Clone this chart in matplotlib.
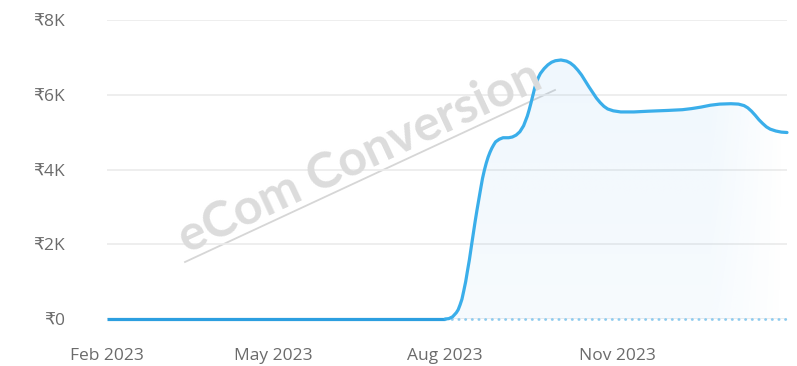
import numpy as np
import pandas as pd
import matplotlib
matplotlib.use("Agg")
import matplotlib.pyplot as plt
import matplotlib.dates as mdates
from matplotlib.patches import PathPatch

# revenue per day (INR)
dates = ["2023-02-01", "2023-08-01", "2023-08-03", "2023-08-05", "2023-08-07",
         "2023-08-08", "2023-08-09", "2023-08-10", "2023-08-11", "2023-08-12",
         "2023-08-13", "2023-08-14", "2023-08-15", "2023-08-16", "2023-08-17",
         "2023-08-18", "2023-08-19", "2023-08-20", "2023-08-21", "2023-08-22",
         "2023-08-23", "2023-08-24", "2023-08-25", "2023-08-26", "2023-08-27",
         "2023-08-28", "2023-08-30", "2023-09-01", "2023-09-04", "2023-09-06",
         "2023-09-08", "2023-09-10", "2023-09-12", "2023-09-13", "2023-09-14",
         "2023-09-15", "2023-09-16", "2023-09-17", "2023-09-18", "2023-09-19",
         "2023-09-20", "2023-09-21", "2023-09-23", "2023-09-25", "2023-09-27",
         "2023-09-29", "2023-10-02", "2023-10-05", "2023-10-07", "2023-10-09",
         "2023-10-11", "2023-10-13", "2023-10-15", "2023-10-17", "2023-10-19",
         "2023-10-21", "2023-10-23", "2023-10-25", "2023-10-27", "2023-10-30",
         "2023-11-03", "2023-11-10", "2023-11-18", "2023-11-28", "2023-12-06",
         "2023-12-11", "2023-12-16", "2023-12-21", "2023-12-26", "2024-01-01",
         "2024-01-05", "2024-01-08", "2024-01-10", "2024-01-12", "2024-01-14",
         "2024-01-16", "2024-01-18", "2024-01-20", "2024-01-22", "2024-01-25",
         "2024-01-28", "2024-01-31"]
revenue = [0, 0, 10, 60, 170,
           250, 380, 530, 760, 1000,
           1300, 1590, 1930, 2260, 2590,
           2900, 3190, 3480, 3760, 3980,
           4170, 4330, 4460, 4570, 4660,
           4740, 4810, 4850, 4850, 4870,
           4920, 5010, 5170, 5300, 5430,
           5600, 5790, 5990, 6190, 6350,
           6470, 6570, 6700, 6800, 6870,
           6910, 6930, 6900, 6850, 6770,
           6660, 6530, 6370, 6210, 6060,
           5910, 5790, 5690, 5620, 5570,
           5540, 5540, 5560, 5580, 5600,
           5630, 5670, 5720, 5750, 5760,
           5750, 5710, 5650, 5560, 5450,
           5330, 5230, 5140, 5080, 5030,
           5000, 4990]
yticks = [0, 2000, 4000, 6000, 8000]
ytick_labels = ["₹0", "₹2K", "₹4K", "₹6K", "₹8K"]
xticks = ["2023-02-01", "2023-05-01", "2023-08-01", "2023-11-01"]
xtick_labels = ["Feb 2023", "May 2023", "Aug 2023", "Nov 2023"]

x = pd.to_datetime(dates)
y = np.array(revenue, dtype=float)
first_sale = 1  # last day before the series moves off zero

plt.rcParams["font.family"] = ["Open Sans", "DejaVu Sans"]

fig = plt.figure(figsize=(7.97, 3.66), dpi=100)
ax = fig.add_axes([107 / 797, 1 - 319 / 366, 680 / 797, 299 / 366])

line_blue = "#3aaeea"

# area under the curve with a soft gradient
poly = ax.fill_between(x, y, 0, color="none", lw=0)
verts = poly.get_paths()[0]
xn = mdates.date2num(x)
grad = np.zeros((100, 200, 4))
grad[..., :3] = np.array([66, 160, 232]) / 255
hfade = np.clip((xn[-1] - np.linspace(xn[0], xn[-1], 200)) / 40, 0, 1)
vfade = np.linspace(0.55, 1.0, 100)[:, None]
grad[..., 3] = 0.085 * vfade * hfade[None, :]
img = ax.imshow(grad, extent=[xn[0], xn[-1], 0, 8000], origin="lower",
                aspect="auto", zorder=1, interpolation="bilinear")
clip = PathPatch(verts, transform=ax.transData, facecolor="none", edgecolor="none")
ax.add_patch(clip)
img.set_clip_path(clip)

# zero baseline: solid before sales begin, dotted afterwards
ax.plot(x[:first_sale + 1], y[:first_sale + 1], color="#2c9fe0", lw=2.3,
        solid_capstyle="butt", zorder=4, clip_on=False)
ax.plot(x[first_sale:], np.zeros(len(x) - first_sale), color="#8dcbef",
        lw=2.0, ls=(0, (0.1, 2.3)), dash_capstyle="round", zorder=3, clip_on=False)
ax.plot(x[first_sale:], y[first_sale:], color=line_blue, lw=2.3,
        solid_joinstyle="round", solid_capstyle="round", zorder=4, clip_on=False)

ax.set_ylim(0, 8000)
ax.set_xlim(xn[0], xn[-1])
ax.set_yticks(yticks)
ax.set_yticklabels(ytick_labels)
ax.set_xticks(pd.to_datetime(xticks))
ax.set_xticklabels(xtick_labels)
ax.tick_params(length=0, labelsize=12.5, labelcolor="#6b6b6b")
ax.tick_params(axis="y", pad=30)
ax.tick_params(axis="x", pad=21)
ax.grid(axis="y", color="#ebebeb", lw=1.2)
ax.set_axisbelow(True)
for s in ax.spines.values():
    s.set_visible(False)
ax.patch.set_alpha(0)

# watermark
fig.text(360 / 797, 1 - 157 / 366, "eCom Conversion", rotation=25,
         rotation_mode="anchor", ha="center", va="center", fontsize=36,
         fontweight="bold", color="#dcdcdc", family=["Lato", "DejaVu Sans"],
         zorder=0)
fig.add_artist(plt.Line2D([185 / 797, 555 / 797], [1 - 262 / 366, 1 - 90 / 366],
                          color="#d6d6d6", lw=1.3, zorder=0))

fig.savefig("out.png", dpi=100)
